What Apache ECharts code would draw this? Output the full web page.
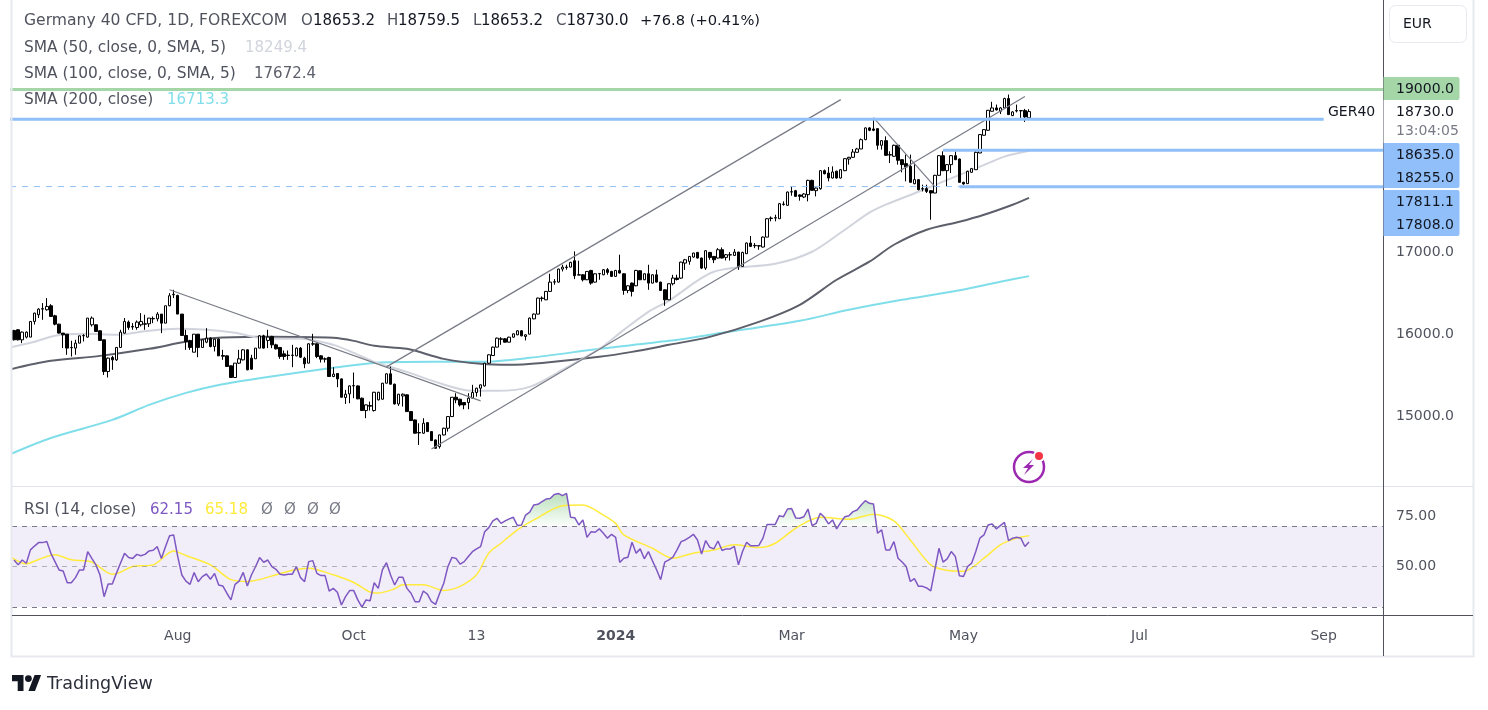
<!DOCTYPE html>
<html>
<head>
<meta charset="utf-8">
<title>Germany 40 CFD</title>
<script src="https://cdn.jsdelivr.net/npm/echarts@6/dist/echarts.min.js"></script>
<style>
	html, body { margin: 0; padding: 0; background: #fff; }
	#chart { width: 1488px; height: 710px; }
</style>
</head>
<body>
<div id="chart"></div>
<script>
/* daily candles, [open, close, low, high] */
const ohlc = [
	[16047,15933,15925,16055],[16056,15933,15925,16060],[15933,16027,15892,16035],[15966,16027,15950,16035],[15966,16158,15966,16158],
	[16158,16260,16120,16265],[16240,16309,16200,16320],[16309,16315,16178,16383],[16301,16342,16290,16444],[16350,16219,16219,16370],
	[16227,16125,16110,16240],[16125,16015,16010,16130],[16015,15994,15831,16015],[16002,15831,15749,16002],[15839,15835,15728,15921],
	[15831,15892,15749,15933],[15892,15982,15892,15982],[15982,15986,15912,16002],[15966,16199,15960,16199],[16117,16199,16096,16219],
	[16117,16035,16035,16120],[16043,15925,15920,16050],[15933,15544,15503,15933],[15544,15708,15471,15716],[15716,15687,15565,15736],
	[15687,15839,15675,15845],[15839,16027,15835,16056],[16015,16158,16010,16199],[16150,16084,16056,16170],[16096,16090,16056,16137],
	[16084,16150,16056,16170],[16117,16158,16096,16260],[16129,16125,16056,16240],[16129,16199,16090,16199],[16190,16195,16137,16219],
	[16190,16248,16158,16272],[16248,16137,16015,16248],[16137,16350,16137,16350],[16350,16473,16345,16505],[16485,16490,16444,16546],
	[16477,16248,16248,16485],[16248,15986,15986,16248],[15986,15912,15810,16056],[15921,15839,15810,15933],[15781,16002,15781,16002],
	[16002,15839,15720,16002],[15839,15933,15839,15933],[15904,15953,15892,16076],[15953,15851,15840,15965],[15851,15941,15790,15945],
	[15941,15736,15736,15950],[15740,15732,15687,15810],[15736,15606,15600,15740],[15614,15471,15471,15620],[15471,15647,15471,15647],
	[15647,15700,15638,15810],[15687,15810,15680,15820],[15810,15565,15560,15815],[15708,15573,15565,15749],[15700,15831,15700,15831],
	[15831,15982,15830,15990],[15982,15831,15825,15995],[15925,15966,15831,16056],[15974,15871,15831,15982],[15871,15822,15815,15885],
	[15839,15728,15700,15845],[15761,15728,15687,15802],[15745,15740,15687,15802],[15745,15741,15597,15871],[15736,15831,15730,15840],
	[15831,15720,15710,15845],[15708,15638,15585,15725],[15647,15884,15645,15890],[15884,15880,15859,16006],[15884,15728,15708,15890],
	[15736,15696,15655,15745],[15700,15696,15655,15716],[15716,15483,15483,15725],[15483,15512,15475,15597],[15520,15454,15352,15525],
	[15454,15229,15225,15460],[15225,15266,15147,15319],[15270,15368,15156,15375],[15368,15372,15217,15532],[15368,15209,15205,15375],
	[15217,15066,15060,15225],[15066,15135,14972,15140],[15127,15120,15066,15176],[15066,15290,15053,15295],[15197,15290,15190,15295],
	[15205,15401,15200,15405],[15401,15516,15400,15520],[15516,15389,15385,15605],[15389,15147,15140,15395],[15147,15266,15123,15270],
	[15245,15266,15115,15275],[15258,15053,15050,15265],[15053,14943,14940,15055],[14951,14788,14785,14955],[14796,14792,14644,14910],
	[14788,14910,14780,14972],[14918,14808,14805,14922],[14808,14697,14695,14812],[14706,14603,14600,14710],[14624,14767,14600,14770],
	[14767,14849,14760,14855],[14849,14992,14808,14995],[14992,15229,14990,15232],[15229,15197,15156,15278],[15205,15135,15115,15210],
	[15164,15135,15082,15170],[15164,15217,15082,15278],[15217,15287,15215,15381],[15287,15340,15237,15345],[15340,15381,15237,15385],
	[15368,15646,15360,15650],[15646,15749,15640,15755],[15740,15843,15735,15850],[15843,15953,15840,15960],[15945,15940,15871,15965],
	[15945,15904,15900,15955],[15904,15965,15900,15970],[15965,16006,15960,16010],[15994,16043,15990,16050],[16043,15982,15975,16050],
	[15974,15994,15925,16000],[16002,16199,16000,16205],[16190,16248,16185,16255],[16248,16444,16245,16450],[16444,16440,16403,16465],
	[16423,16526,16420,16530],[16526,16640,16520,16743],[16640,16644,16608,16677],[16640,16800,16635,16805],[16800,16824,16771,16853],
	[16824,16820,16792,16853],[16824,16882,16820,16890],[16902,16718,16677,17017],[16730,16726,16726,16902],[16730,16669,16648,16735],
	[16669,16771,16665,16775],[16783,16628,16608,16790],[16640,16742,16635,16748],[16742,16746,16669,16750],[16730,16792,16725,16800],
	[16792,16759,16730,16812],[16771,16710,16705,16778],[16710,16783,16705,16790],[16783,16751,16745,16976],[16742,16538,16485,16748],
	[16538,16595,16505,16600],[16628,16526,16464,16635],[16595,16783,16590,16790],[16779,16669,16665,16785],[16669,16742,16665,16748],
	[16742,16628,16546,16853],[16628,16730,16625,16735],[16730,16640,16635,16792],[16640,16538,16535,16645],[16546,16423,16350,16550],
	[16423,16620,16420,16625],[16620,16690,16600,16730],[16690,16672,16660,16730],[16689,16885,16680,16890],[16873,16914,16790,16925],
	[16894,16955,16853,16960],[16947,16996,16940,17000],[17004,16935,16930,17010],[16935,16812,16800,16940],[16812,17025,16790,17030],
	[17004,16943,16914,17010],[16955,16914,16873,16960],[16935,17037,16930,17057],[17037,16935,16930,17065],[16943,16976,16905,16985],
	[16976,16972,16905,17008],[16967,17008,16960,17045],[17008,16832,16790,17012],[16832,17004,16830,17012],[16988,17119,16985,17125],
	[17119,17078,17070,17205],[17090,17086,17057,17119],[17086,17082,17037,17095],[17070,17192,17065,17200],[17192,17417,17190,17425],
	[17425,17420,17385,17445],[17425,17430,17385,17466],[17417,17601,17415,17610],[17597,17593,17577,17630],[17581,17744,17575,17750],
	[17748,17744,17699,17814],[17761,17691,17685,17770],[17708,17691,17638,17715],[17683,17720,17670,17730],[17712,17887,17630,17895],
	[17887,17765,17760,17895],[17761,17793,17691,17800],[17785,18006,17773,18012],[18006,17969,17960,18020],[17977,17916,17875,18051],
	[17916,17990,17910,18059],[18000,17916,17910,18005],[17916,18018,17910,18025],[18006,18153,18000,18160],[18149,18170,18080,18175],
	[18170,18235,18165,18272],[18231,18272,18228,18285],[18272,18386,18270,18400],[18386,18530,18380,18535],[18530,18501,18490,18540],
	[18517,18501,18490,18652],[18521,18317,18264,18525],[18317,18374,18264,18380],[18374,18194,18190,18427],[18202,18198,18100,18243],
	[18182,18317,18178,18325],[18317,18133,18080,18322],[18141,18080,17986,18146],[18092,18051,17875,18203],[18059,17863,17860,18203],
	[17846,17896,17840,18092],[17896,17773,17765,17900],[17785,17781,17752,17834],[17785,17752,17732,17834],[17761,17732,17405,17765],
	[17732,17949,17730,17955],[17949,18190,17945,18195],[18190,18006,18000,18243],[18006,18080,17814,18085],[18080,18190,17977,18195],
	[18190,18141,18135,18243],[18149,17863,17860,18155],[17863,17843,17835,17870],[17847,17998,17843,18005],[17986,18031,17980,18040],
	[18018,18231,18014,18252],[18223,18448,18220,18455],[18440,18509,18436,18515],[18501,18746,18495,18750],[18734,18775,18730,18850],
	[18775,18750,18745,18816],[18734,18775,18700,18785],[18775,18890,18770,18900],[18890,18693,18690,18939],[18681,18726,18675,18735],
	[18742,18738,18720,18816],[18742,18740,18652,18750],[18742,18665,18603,18763],[18653.2,18730,18653.2,18759.5]
]

/* moving averages, [bar, value] at the places they were read */
const sma50 = [[-1,15840],[5,15908],[10,15982],[17,16006],[25,15994],[33,16043],[40,16067],[47,16055],[54,16018],[62,15945],[70,15945],[78,15871],[83,15773],[88,15663],[96,15540],[103,15417],[112,15307],[118,15307],[126,15356],[134,15564],[143,15822],[149,16055],[155,16276],[160,16411],[171,16767],[186,16865],[195,17012],[203,17282],[209,17491],[213,17589],[221,17748],[227,17871],[236,18055],[242,18178],[248,18249.4]]
const sma100 = [[-1,15570],[9,15675],[21,15736],[33,15822],[42,15908],[50,15957],[62,15969],[78,15957],[83,15920],[88,15859],[96,15822],[105,15699],[114,15638],[121,15626],[129,15650],[143,15724],[151,15785],[160,15871],[170,15969],[182,16153],[192,16362],[201,16669],[209,16890],[215,17098],[223,17282],[231,17380],[237,17466],[244,17589],[248,17672.4]]
const sma200 = [[-1,14530],[9,14730],[24,14951],[33,15135],[42,15282],[50,15380],[62,15478],[78,15589],[88,15650],[102,15663],[114,15663],[126,15712],[143,15822],[160,15920],[173,16018],[192,16166],[204,16301],[217,16423],[229,16521],[241,16644],[248,16713.3]]

const rsi = [
	53.2,50.8,53.2,51.6,58.2,60.1,61.8,61.8,62.3,56.5,52.4,48.3,47.8,42.0,42.0,44.5,48.3,48.3,57.3,54.0,
	50.8,45.8,35.1,41.4,41.4,46.6,51.6,56.5,54.4,54.0,56.0,55.3,56.0,57.7,58.0,59.8,54.0,59.8,65.2,65.6,
	54.9,45.8,42.8,41.2,47.0,42.5,45.0,46.3,43.7,46.6,40.9,40.4,36.8,33.5,41.2,42.8,47.1,40.4,45.8,49.9,
	54.4,52.1,53.2,49.9,48.6,46.2,45.8,46.2,46.2,49.9,44.5,42.5,52.4,52.9,46.6,45.5,45.5,37.9,39.2,37.3,
	31.0,35.1,38.1,38.1,33.5,29.9,33.5,33.1,42.0,39.2,48.3,51.9,45.8,40.9,44.7,44.7,39.2,36.8,32.6,32.6,
	37.9,36.4,32.6,31.3,36.8,41.7,49.9,54.5,54.0,51.2,52.4,54.9,57.3,58.7,59.8,67.2,69.2,72.5,73.8,71.3,
	72.5,73.5,74.3,70.2,70.5,75.4,76.8,80.4,80.7,82.0,83.3,83.6,85.6,86.1,85.0,86.1,74.3,74.1,70.5,73.0,
	64.4,67.2,66.9,68.6,66.4,64.0,65.9,64.4,52.0,54.1,54.6,62.0,56.6,58.7,53.8,57.4,52.8,48.4,43.5,52.2,
	53.3,54.6,58.2,62.3,63.1,64.4,65.9,63.1,56.2,62.8,59.5,58.7,62.6,57.9,58.7,58.7,59.9,50.8,57.4,62.0,
	60.2,60.2,60.4,64.0,70.8,70.8,70.8,75.1,74.6,78.4,78.6,74.0,73.8,74.6,78.4,70.2,71.3,76.3,74.3,71.0,
	73.0,68.6,71.8,74.6,75.1,77.1,77.9,80.4,82.5,81.2,80.9,66.4,68.1,58.2,58.2,62.3,54.1,52.2,50.0,42.6,
	44.0,40.2,40.2,39.4,38.0,48.4,59.0,52.2,53.8,57.4,54.9,45.4,45.1,50.0,51.7,57.4,64.0,65.6,70.5,71.0,
	68.6,70.2,71.8,62.8,64.0,64.4,64.0,59.9,62.15
]
const rsiMa = [[-1,55.0],[3,51.3],[6,53.5],[10,55.8],[14,53.3],[19,52.2],[24,46.2],[26,47.2],[29,50.0],[34,50.8],[39,57.7],[42,55.4],[48,50.8],[53,43.5],[57,42.6],[64,45.9],[68,48.2],[72,49.2],[78,45.9],[83,42.1],[87,37.4],[89,36.9],[93,39.0],[95,41.0],[100,41.0],[105,38.2],[109,40.2],[113,45.9],[116,56.6],[119,61.5],[123,68.1],[127,73.0],[134,80.0],[139,80.4],[144,75.4],[147,71.3],[149,65.6],[156,59.0],[161,54.1],[166,56.6],[171,58.2],[176,60.7],[182,59.4],[186,61.5],[191,68.9],[197,74.3],[204,73.3],[210,75.8],[215,72.5],[219,63.1],[224,50.8],[228,48.1],[232,47.6],[237,54.1],[241,60.7],[245,64.0],[248,65.18]]

/* drawn trend lines, [bar, price] at both ends */
const trendDownAug = [[38,16546],[114,15184]]
const trendDownApr = [[210,18656],[225,17810]]
const channelUpper = [[91,15601],[202,18877]]
const channelLower = [[102,14595],[247,18914]]

/* horizontal levels, [bar, price] at both ends */
const levelGreen = [[-1,19000],[335,19000]]
const levelGer40 = [[-1,18635],[320,18635]]
const levelHigh = [[227,18255],[335,18255]]
const levelDashed = [[-1,17811.1],[231,17811.1]]
const levelLow = [[231,17808],[335,17808]]

const tickBars = [40,83,113,147,190,232,275,320]
const tickLabels = ['Aug','Oct','13','2024','Mar','May','Jul','Sep']
const priceTicks = [15000,16000,17000]
const rsiTicks = [50,75]
const barCount = 335

const categories = []
for(let i = 0; i < barCount; i++){
	const t = tickBars.indexOf(i)
	categories.push(t < 0 ? '' : tickLabels[t])
}

const FONT = '"DejaVu Sans", sans-serif'
const LABEL = '#50535e'
const DARK = '#131722'
const BLUE = '#90bff9'
const GREEN = '#a5d6a7'
const PURPLE = '#7e57c2'
const DRAWN = '#787b86'

const text = (x, y, str, fill, size=14, align='left') => ({
	type: 'text', x, y, z: 30,
	style: {text: str, fill, font: `${size}px ${FONT}`, align, verticalAlign: 'middle'}
})
const rect = (x, y, width, height, fill, r=0, z=20, stroke) => ({
	type: 'rect', z,
	shape: {x, y, width, height, r},
	style: {fill, stroke}
})
const rule = (x1, y1, x2, y2, stroke, lineWidth=1) => ({
	type: 'line', z: 15,
	shape: {x1, y1, x2, y2},
	style: {stroke, lineWidth}
})

const legendItems = [
	text(24, 21, 'Germany 40 CFD, 1D, FOREXCOM', LABEL, 15.6),
	text(301, 21, 'O', LABEL, 15), text(313, 21, '18653.2', DARK, 15),
	text(387, 21, 'H', LABEL, 15), text(398, 21, '18759.5', DARK, 15),
	text(473, 21, 'L', LABEL, 15), text(481, 21, '18653.2', DARK, 15),
	text(556, 21, 'C', LABEL, 15), text(566.5, 21, '18730.0', DARK, 15),
	text(640, 21, '+76.8 (+0.41%)', DARK, 14.7),
	text(24, 48, 'SMA (50, close, 0, SMA, 5)', LABEL, 15.4), text(245, 48, '18249.4', '#d1d4dc', 15),
	text(24, 74, 'SMA (100, close, 0, SMA, 5)', LABEL, 15.4), text(254, 74, '17672.4', '#5d606b', 15),
	text(24, 100, 'SMA (200, close)', LABEL, 15.4), text(167, 100, '16713.3', '#80deea', 15),
	text(24, 510, 'RSI (14, close)', LABEL, 15.6), text(150, 510, '62.15', PURPLE, 15), text(205, 510, '65.18', '#ffeb3b', 15),
	text(261, 510, 'Ø', DRAWN, 15), text(284, 510, 'Ø', DRAWN, 15), text(307, 510, 'Ø', DRAWN, 15), text(329, 510, 'Ø', DRAWN, 15)
]

const sideItems = [
	rect(1383.5, 100, 76, 43, '#fff'),
	rect(1383.5, 77, 76, 23, GREEN, [0,2,2,0]),
	rect(1383.5, 143, 76, 45, BLUE, [0,2,2,0]),
	rect(1383.5, 190, 76, 46, BLUE, [0,2,2,0]),
	text(1396, 89, '19000.0', DARK),
	text(1396, 112, '18730.0', DARK),
	text(1396, 131, '13:04:05', DRAWN),
	text(1396, 155, '18635.0', DARK),
	text(1396, 178, '18255.0', DARK),
	text(1396, 202, '17811.1', DARK),
	text(1396, 225, '17808.0', DARK),
	text(1328, 112, 'GER40', DARK),
	rect(1389.5, 5.5, 77, 37, '#fff', 6, 20, '#e8e9ef'),
	text(1403, 24, 'EUR', DARK)
]

const frameItems = [
	rule(11.5, 0, 11.5, 657, '#e8e9ef', 2),
	rule(11, 656.5, 1474, 656.5, '#e8e9ef', 2),
	rule(1473.5, 0, 1473.5, 657, '#e8e9ef', 2),
	rule(12, 486.5, 1473, 486.5, '#e0e3eb'),
	rule(12, 615.5, 1473, 615.5, LABEL),
	rule(1383.5, 0, 1383.5, 656, LABEL)
]

const iconItems = [
	{type: 'circle', z: 25, shape: {cx: 1029, cy: 467, r: 15}, style: {fill: 'none', stroke: '#9c27b0', lineWidth: 2.5}},
	{type: 'polygon', z: 25, shape: {points: [[1033,459],[1023,468],[1028,468],[1024,475],[1034,465],[1029,465]]}, style: {fill: '#9c27b0'}},
	{type: 'circle', z: 26, shape: {cx: 1039, cy: 456, r: 6}, style: {fill: '#fff'}},
	{type: 'circle', z: 27, shape: {cx: 1039, cy: 456, r: 4}, style: {fill: '#f23645'}}
]

const logoItems = [
	{type: 'polygon', z: 25, shape: {points: [[12,675],[23.5,675],[23.5,691],[17.7,691],[17.7,681.2],[12,681.2]]}, style: {fill: DARK}},
	{type: 'polygon', z: 25, shape: {points: [[28.4,691],[34.6,675],[41.1,675],[35,691]]}, style: {fill: DARK}},
	{type: 'circle', z: 25, shape: {cx: 28.4, cy: 678.6, r: 3.4}, style: {fill: DARK}},
	text(47, 684, 'TradingView', '#2a2e39', 17.5)
]

const lineSeries = (name, data, color, width=1, z=3, smooth=false, type='solid') => ({
	name, data, type: 'line', z, smooth,
	xAxisIndex: 0, yAxisIndex: 0,
	showSymbol: false, symbol: 'none', silent: true,
	lineStyle: {color, width, type}
})

const option = {
	animation: false,
	backgroundColor: '#fff',
	textStyle: {fontFamily: FONT},
	grid: [
		{left: 12, top: 3.5, width: 1371, height: 482.5, containLabel: false},
		{left: 12, top: 487, width: 1371, height: 129, containLabel: false}
	],
	xAxis: [
		{type: 'category', gridIndex: 0, data: categories, show: false},
		{
			type: 'category', gridIndex: 1, data: categories,
			axisLine: {show: false}, axisTick: {show: false},
			axisLabel: {
				interval: (i, v) => v !== '',
				margin: 13,
				hideOverlap: false,
				color: LABEL,
				fontSize: 14,
				fontFamily: FONT,
				formatter: (v) => v == '2024' ? `{b|${v}}` : v,
				rich: {b: {fontWeight: 'bold', fontSize: 14, color: LABEL, fontFamily: FONT}}
			}
		}
	],
	yAxis: [
		{
			type: 'value', gridIndex: 0, position: 'right', min: 14141, max: 20055,
			splitLine: {show: false}, axisLine: {show: false}, axisTick: {show: false},
			axisLabel: {
				customValues: priceTicks, margin: 13, color: LABEL, fontSize: 14, fontFamily: FONT,
				formatter: (v) => v.toFixed(1)
			}
		},
		{
			type: 'value', gridIndex: 1, position: 'right', min: 25.56, max: 89.26,
			splitLine: {show: false}, axisLine: {show: false}, axisTick: {show: false},
			axisLabel: {
				customValues: rsiTicks, margin: 13, color: LABEL, fontSize: 14, fontFamily: FONT,
				formatter: (v) => v.toFixed(2)
			}
		}
	],
	series: [
		lineSeries('SMA 200', sma200, '#80deea', 2, 3, 0.3),
		lineSeries('SMA 100', sma100, '#5d606b', 2, 3, 0.3),
		lineSeries('SMA 50', sma50, '#d1d4dc', 2, 3, 0.3),
		{
			name: 'GER40', type: 'candlestick', data: ohlc, z: 4,
			xAxisIndex: 0, yAxisIndex: 0, barWidth: 3, silent: true,
			itemStyle: {color: '#fff', color0: '#000', borderColor: '#000', borderColor0: '#000', borderWidth: 1}
		},
		lineSeries('Trend 1', trendDownAug, DRAWN, 1.2, 5),
		lineSeries('Trend 2', trendDownApr, DRAWN, 1.2, 5),
		lineSeries('Channel upper', channelUpper, DRAWN, 1.2, 5),
		lineSeries('Channel lower', channelLower, DRAWN, 1.2, 5),
		lineSeries('Level 19000', levelGreen, GREEN, 3, 6),
		lineSeries('Level 18635', levelGer40, BLUE, 3, 6),
		lineSeries('Level 18255', levelHigh, BLUE, 3, 6),
		lineSeries('Level 17811', levelDashed, BLUE, 1, 6, false, [6, 6]),
		lineSeries('Level 17808', levelLow, BLUE, 3, 6),
		{
			name: 'RSI over', type: 'line', xAxisIndex: 1, yAxisIndex: 1, z: 2, silent: true,
			data: rsi.map(v => Math.max(v, 70)),
			showSymbol: false, symbol: 'none',
			lineStyle: {width: 0},
			areaStyle: {
				origin: 70,
				color: new echarts.graphic.LinearGradient(0, 0, 0, 1, [
					{offset: 0, color: 'rgba(76,175,80,0.55)'},
					{offset: 1, color: 'rgba(76,175,80,0.03)'}
				])
			}
		},
		{
			name: 'RSI', type: 'line', xAxisIndex: 1, yAxisIndex: 1, z: 4, silent: true,
			data: rsi, showSymbol: false, symbol: 'none',
			lineStyle: {color: PURPLE, width: 1.5},
			markArea: {
				silent: true,
				itemStyle: {color: 'rgba(126,87,194,0.1)'},
				data: [[{yAxis: 30}, {yAxis: 70}]]
			},
			markLine: {
				silent: true, symbol: 'none', animation: false,
				label: {show: false},
				lineStyle: {type: [5, 5], width: 1, color: DRAWN},
				data: [
					{yAxis: 70},
					{yAxis: 50, lineStyle: {color: 'rgba(120,123,134,0.55)'}},
					{yAxis: 30}
				]
			}
		},
		{
			name: 'RSI MA', type: 'line', xAxisIndex: 1, yAxisIndex: 1, z: 3, silent: true,
			data: rsiMa, smooth: 0.3, showSymbol: false, symbol: 'none',
			lineStyle: {color: '#ffeb3b', width: 1.5}
		}
	],
	graphic: {elements: [...frameItems, ...legendItems, ...sideItems, ...iconItems, ...logoItems]}
}

const chart = echarts.init(document.getElementById('chart'), null, {renderer: 'canvas'})
chart.setOption(option)

window.onresize = () => {
	chart.resize()
}
</script>
</body>
</html>
